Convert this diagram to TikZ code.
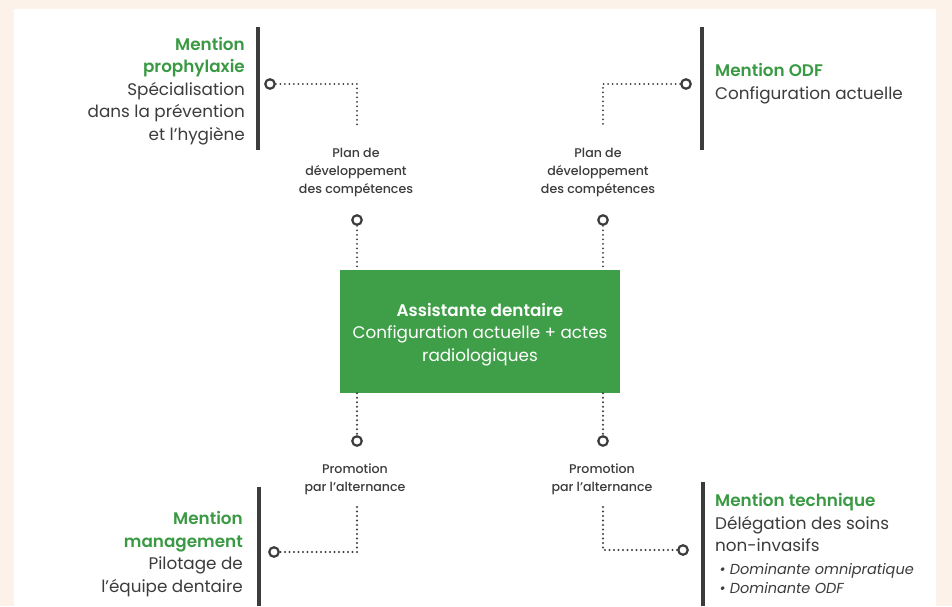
\documentclass[tikz,border=0pt]{standalone}
\usepackage{fontspec}
\setmainfont{Poppins}[BoldFont={Poppins SemiBold}]
\newfontfamily\labelfont{Poppins Medium}
\definecolor{peach}{HTML}{FDF2EA}
\definecolor{ink}{HTML}{3C3C3C}
\definecolor{mgreen}{HTML}{3A9A44}
\definecolor{boxgreen}{HTML}{3F9F48}
\newcommand\greenhead[1]{{\color{mgreen}\bfseries #1}}
\begin{document}
\begin{tikzpicture}[x=1pt,y=-1pt,
  bigtext/.style={font=\fontsize{16.8}{22.5}\selectfont, text=ink, inner sep=0pt},
  smalltext/.style={font=\labelfont\fontsize{12.6}{18}\selectfont, text=ink, align=center, inner sep=0pt},
  ring/.style={circle, draw=ink, line width=2.2pt, fill=white, minimum size=9.5pt, inner sep=0pt},
  dotline/.style={draw=ink, line width=2.1pt, dash pattern=on 0pt off 4.5pt, line cap=round},
  bar/.style={draw=ink, line width=3.5pt},
  centerbox/.style={fill=boxgreen, minimum width=280pt, minimum height=123pt, inner sep=0pt},
  boxtext/.style={text=white, align=center, inner sep=0pt, font=\fontsize{16.8}{22.5}\selectfont}
]
\useasboundingbox (0,0) rectangle (952,606);
\fill[peach] (0,0) rectangle (952,606);
\fill[white] (14,9) rectangle (936,606);

% central box
\node[centerbox] (box) at (480,331.5) {};
\node[boxtext, anchor=base] (boxlabel) at (480,361) {{\bfseries Assistante dentaire}\\Configuration actuelle + actes\\radiologiques};

% rings
\node[ring] (c1) at (270,84) {};
\node[ring] (c2) at (357,220) {};
\node[ring] (c3) at (603,220) {};
\node[ring] (c4) at (686,84) {};
\node[ring] (c5) at (357,441) {};
\node[ring] (c6) at (603,441) {};
\node[ring] (c7) at (274,552) {};
\node[ring] (c8) at (683,550) {};

% corners and free ends
\coordinate (k1) at (357,84);
\coordinate (e1) at (357,128);
\coordinate (k2) at (603,84);
\coordinate (e2) at (603,128);
\coordinate (k3) at (357,552);
\coordinate (e3) at (357,507);
\coordinate (k4) at (603,550);
\coordinate (e4) at (603,507);

% dotted connectors
\draw[dotline] (c1.east) -- (k1) -- (e1);
\draw[dotline] (c4.west) -- (k2) -- (e2);
\draw[dotline] (c2.south) -- (box.north -| c2);
\draw[dotline] (c3.south) -- (box.north -| c3);
\draw[dotline] (box.south -| c5) -- (c5.north);
\draw[dotline] (box.south -| c6) -- (c6.north);
\draw[dotline] (e3) -- (k3) -- (c7.east);
\draw[dotline] (e4) -- (k4) -- (c8.west);

% labels
\node[smalltext, anchor=base] (l1) at (356,193) {Plan de\\développement\\des compétences};
\node[smalltext, anchor=base] (l2) at (598,193) {Plan de\\développement\\des compétences};
\node[smalltext, anchor=base] (l3) at (355,491) {Promotion\\par l’alternance};
\node[smalltext, anchor=base] (l4) at (602,491) {Promotion\\par l’alternance};

% bars
\coordinate (b1a) at (258,27); \coordinate (b1b) at (258,150);
\coordinate (b2a) at (702,27); \coordinate (b2b) at (702,150);
\coordinate (b3a) at (259,487); \coordinate (b3b) at (259,606);
\coordinate (b4a) at (703,482); \coordinate (b4b) at (703,606);
\draw[bar] (b1a) -- (b1b);
\draw[bar] (b2a) -- (b2b);
\draw[bar] (b3a) -- (b3b);
\draw[bar] (b4a) -- (b4b);

% text blocks
\node[bigtext, anchor=base east, align=right] (t1) at (245,140)
  {\greenhead{Mention}\\\greenhead{prophylaxie}\\Spécialisation\\dans la prévention\\et l’hygiène};
\node[bigtext, anchor=base west, align=left] (t2) at (715,99)
  {\greenhead{Mention ODF}\\Configuration actuelle};
\node[bigtext, anchor=base east, align=right] (t3) at (243,592)
  {\greenhead{Mention}\\\greenhead{management}\\Pilotage de\\l’équipe dentaire};
\node[bigtext, anchor=base west, align=left] (t4) at (715,593)
  {\greenhead{Mention technique}\\Délégation des soins\\non-invasifs\\
   {\fontsize{14.5}{18}\selectfont\itshape\ • Dominante omnipratique}\\[-3.5pt]
   {\fontsize{14.5}{18}\selectfont\itshape\ • Dominante ODF}};
\end{tikzpicture}
\end{document}
